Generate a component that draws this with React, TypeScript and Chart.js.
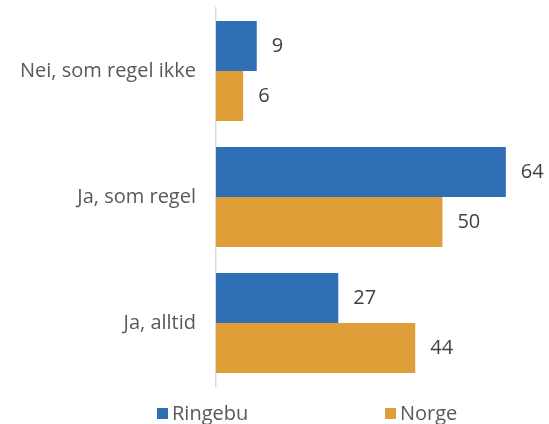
import React, { useEffect, useRef } from "react";
import { Chart, registerables } from "chart.js";

Chart.register(...registerables);

const categories = ["Nei, som regel ikke", "Ja, som regel", "Ja, alltid"];
const ringebuValues = [9, 64, 27];
const norgeValues = [6, 50, 44];
const seriesNames = ["Ringebu", "Norge"];
const seriesColors = ["#2E6FB5", "#DF9E38"];

const FONT = "'Open Sans', Roboto, sans-serif";

const valueLabels = {
  id: "valueLabels",
  afterDatasetsDraw(chart: any) {
    const ctx = chart.ctx;
    ctx.save();
    ctx.font = `20px ${FONT}`;
    ctx.fillStyle = "#404040";
    ctx.textAlign = "left";
    ctx.textBaseline = "middle";
    chart.data.datasets.forEach((ds: any, i: number) => {
      const meta = chart.getDatasetMeta(i);
      meta.data.forEach((bar: any, j: number) => {
        ctx.fillText(String(ds.data[j]), bar.x + 15, bar.y);
      });
    });
    ctx.restore();
  },
};

const bottomLegend = {
  id: "bottomLegend",
  afterDraw(chart: any) {
    const ctx = chart.ctx;
    ctx.save();
    ctx.font = `20px ${FONT}`;
    ctx.textAlign = "left";
    ctx.textBaseline = "alphabetic";
    const xs = [157, 385];
    chart.data.datasets.forEach((ds: any, i: number) => {
      ctx.fillStyle = ds.backgroundColor;
      ctx.fillRect(xs[i], 408, 11, 11);
      ctx.fillStyle = "#595959";
      ctx.fillText(ds.label, xs[i] + 15, 420);
    });
    ctx.restore();
  },
};

export default function App() {
  const ref = useRef<HTMLCanvasElement>(null);
  useEffect(() => {
    document.body.style.margin = "0";
    const chart = new Chart(ref.current!, {
      type: "bar",
      data: {
        labels: categories,
        datasets: [
          { label: seriesNames[0], data: ringebuValues, backgroundColor: seriesColors[0] },
          { label: seriesNames[1], data: norgeValues, backgroundColor: seriesColors[1] },
        ],
      },
      options: {
        indexAxis: "y",
        animation: false,
        responsive: false,
        layout: { padding: { top: 8, bottom: 38, left: 0, right: 16 } },
        datasets: { bar: { barPercentage: 1, categoryPercentage: 0.794 } },
        plugins: { legend: { display: false }, tooltip: { enabled: false } },
        scales: {
          x: {
            min: 0,
            max: 70,
            display: false,
          },
          y: {
            grid: { display: false, drawTicks: false },
            border: { display: true, color: "#D9D9D9", width: 1.5 },
            ticks: { padding: 20, color: "#595959", font: { size: 20, family: FONT } },
            afterFit(scale: any) {
              scale.width = 216;
              scale.paddingTop = 0;
              scale.paddingBottom = 0;
            },
          },
        },
      },
      plugins: [valueLabels, bottomLegend],
    });
    return () => chart.destroy();
  }, []);
  return <canvas ref={ref} width={549} height={424} style={{ display: "block" }} />;
}
